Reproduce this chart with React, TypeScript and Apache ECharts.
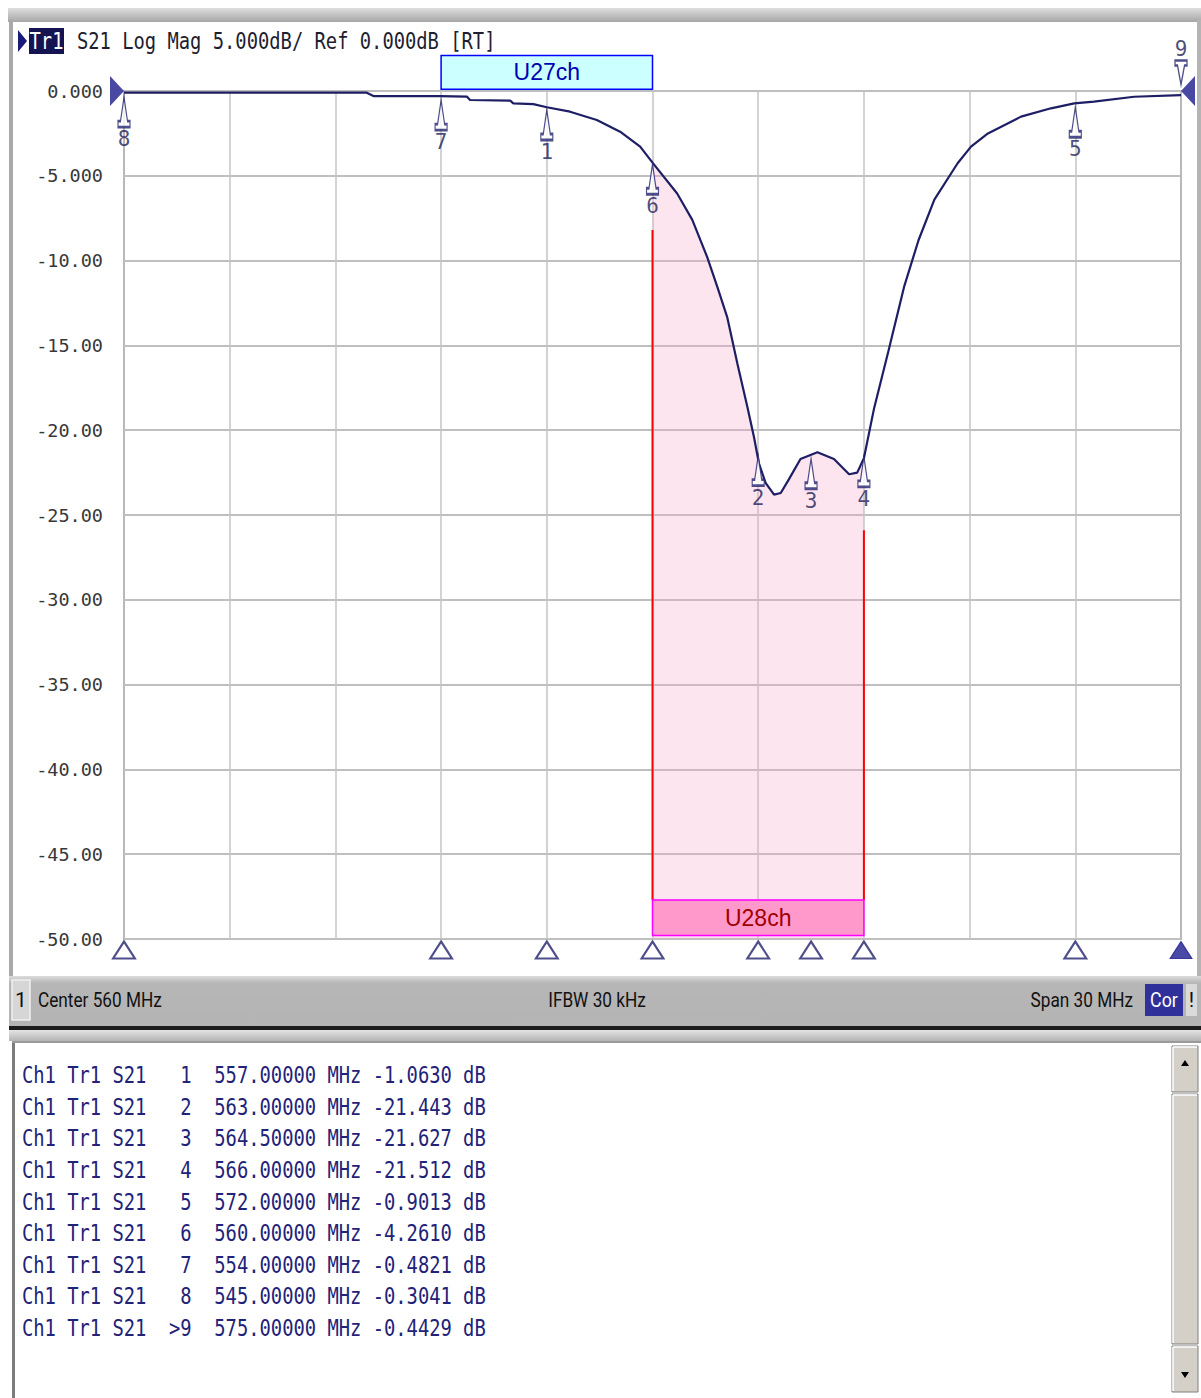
import React, { useEffect, useRef } from "react";
import * as echarts from "echarts";

// ---------- instrument settings ----------
const CENTER_MHZ = 560;
const SPAN_MHZ = 30;
const START_MHZ = CENTER_MHZ - SPAN_MHZ / 2;
const IFBW_KHZ = 30;
const Y_MIN = -50;
const Y_MAX = 0;
const Y_STEP = 5;
const X_STEP = 3;

// ---------- S21 trace ----------
const TRACE_MHZ = [
  545.0, 547.0, 549.0, 550.85, 551.89, 552.08, 553.97, 554.73, 554.82, 555.96,
  556.05, 556.62, 557.0, 557.66, 558.42, 559.08, 559.65, 560.0, 560.7, 561.13,
  561.55, 561.84, 562.12, 562.41, 562.69, 562.88, 563.02, 563.21, 563.45, 563.64,
  563.87, 564.2, 564.68, 565.15, 565.58, 565.81, 566.0, 566.29, 566.7, 567.14,
  567.55, 568.0, 568.66, 569.04, 569.52, 570.46, 571.31, 571.97, 572.53, 573.67,
  575.0,
];
const TRACE_DB = [
  -0.1, -0.1, -0.1, -0.1, -0.1, -0.3, -0.3, -0.33, -0.53, -0.57,
  -0.73, -0.77, -0.96, -1.22, -1.71, -2.4, -3.28, -4.22, -6.04, -7.6,
  -9.78, -11.55, -13.33, -16.08, -18.6, -20.4, -21.95, -23.1, -23.8, -23.7,
  -22.9, -21.7, -21.3, -21.7, -22.6, -22.5, -21.65, -18.7, -15.3, -11.55,
  -8.8, -6.4, -4.26, -3.28, -2.5, -1.51, -1.02, -0.73, -0.63, -0.34,
  -0.24,
];

// ---------- markers (readout table) ----------
const MARKER_IDS = ["1", "2", "3", "4", "5", "6", "7", "8", "9"];
const MARKER_MHZ = [557, 563, 564.5, 566, 572, 560, 554, 545, 575];
const MARKER_DB = [-1.063, -21.443, -21.627, -21.512, -0.9013, -4.261, -0.4821, -0.3041, -0.4429];
const ACTIVE_MARKER = "9";

// ---------- channel boxes ----------
const U27_MHZ = [554, 560];
const U27_DB = [2.1, 0.1];
const U28_MHZ = [560, 566];
const U28_DB = [-47.7, -49.8];
const EDGE_TOP_DB = [-8.2, -25.9];

const MONO = '"DejaVu Sans Mono", "Liberation Mono", monospace';
const SANS = 'Roboto, "Liberation Sans", sans-serif';
const NAVY = "#22226e";

const FLAG_UP = "path://M6,0 L9.5,24 L12,24 L12,30 L0,30 L0,24 L2.5,24 Z";
const FLAG_DOWN = "path://M6,24 L9.5,5 L12,5 L12,0 L0,0 L0,5 L2.5,5 Z";

const xOf = (f: number) => f - START_MHZ;

function yLabel(v: number) {
  if (v === 0) return "0.000";
  return Math.abs(v) < 10 ? v.toFixed(3) : v.toFixed(2);
}

function readout(v: number) {
  return Math.abs(v) < 10 ? v.toFixed(4) : v.toFixed(3);
}

function buildOption(): any {
  const trace = TRACE_MHZ.map((f, i) => [xOf(f), TRACE_DB[i]]);
  const band = TRACE_MHZ.map((f, i) => [f, TRACE_DB[i]])
    .filter((p) => p[0] >= U28_MHZ[0] && p[0] <= U28_MHZ[1])
    .map((p) => [xOf(p[0]), p[1]]);
  const flags = MARKER_IDS.map((id, i) => ({ id, i })).filter((m) => m.id !== ACTIVE_MARKER);
  const active = MARKER_IDS.indexOf(ACTIVE_MARKER);

  return {
    animation: false,
    backgroundColor: "#ffffff",
    grid: {
      left: 124,
      top: 91,
      width: 1057,
      height: 848,
      show: true,
      borderColor: "#707070",
      borderWidth: 1.5,
      backgroundColor: "transparent",
    },
    xAxis: {
      type: "value",
      min: 0,
      max: SPAN_MHZ,
      interval: X_STEP,
      axisLabel: { show: false },
      axisTick: { show: false },
      axisLine: { show: false },
      splitLine: { show: true, lineStyle: { color: "#c4c4c4", width: 1.5 } },
    },
    yAxis: {
      type: "value",
      min: Y_MIN,
      max: Y_MAX,
      interval: Y_STEP,
      axisTick: { show: false },
      axisLine: { show: false },
      axisLabel: {
        formatter: yLabel,
        fontFamily: MONO,
        fontSize: 18.5,
        color: "#383838",
        margin: 21,
      },
      splitLine: { show: true, lineStyle: { color: "#bfbfbf", width: 2 } },
    },
    series: [
      {
        name: "band",
        type: "line",
        data: band,
        showSymbol: false,
        lineStyle: { width: 0, opacity: 0 },
        areaStyle: { color: "rgba(246,168,200,0.42)", origin: "start" },
        z: 2,
        silent: true,
      },
      {
        name: "edgeL",
        type: "line",
        data: [
          [xOf(U28_MHZ[0]), EDGE_TOP_DB[0]],
          [xOf(U28_MHZ[0]), U28_DB[0]],
        ],
        showSymbol: false,
        lineStyle: { color: "#ff0000", width: 2 },
        z: 3,
      },
      {
        name: "edgeR",
        type: "line",
        data: [
          [xOf(U28_MHZ[1]), EDGE_TOP_DB[1]],
          [xOf(U28_MHZ[1]), U28_DB[0]],
        ],
        showSymbol: false,
        lineStyle: { color: "#ff0000", width: 2 },
        z: 3,
      },
      {
        name: "S21",
        type: "line",
        data: trace,
        showSymbol: false,
        lineStyle: { color: "#1e1e64", width: 2.2 },
        z: 5,
      },
      {
        name: "flags",
        type: "scatter",
        clip: false,
        data: flags.map((m) => [xOf(MARKER_MHZ[m.i]), MARKER_DB[m.i], m.id]),
        symbol: FLAG_UP,
        symbolSize: [12, 30],
        symbolOffset: [0, 16],
        itemStyle: { color: "#ffffff", borderColor: NAVY, borderWidth: 1.8 },
        label: {
          show: true,
          position: "bottom",
          distance: 0,
          formatter: (p: any) => p.value[2],
          fontFamily: MONO,
          fontSize: 21,
          color: "#1e1e5a",
        },
        z: 6,
      },
      {
        name: "activeFlag",
        type: "scatter",
        clip: false,
        data: [[xOf(MARKER_MHZ[active]), MARKER_DB[active], ACTIVE_MARKER]],
        symbol: FLAG_DOWN,
        symbolSize: [12, 24],
        symbolOffset: [0, -26],
        itemStyle: { color: "#ffffff", borderColor: NAVY, borderWidth: 1.8 },
        label: {
          show: true,
          position: "top",
          distance: 0,
          formatter: (p: any) => p.value[2],
          fontFamily: MONO,
          fontSize: 21,
          color: "#1e1e5a",
        },
        z: 6,
      },
      {
        name: "stimulusMarkers",
        type: "scatter",
        clip: false,
        data: MARKER_IDS.map((id, i) => ({
          value: [xOf(MARKER_MHZ[i]), Y_MIN],
          itemStyle:
            id === ACTIVE_MARKER
              ? { color: "#1c1c90", borderColor: "#1c1c90", borderWidth: 1 }
              : { color: "#ffffff", borderColor: NAVY, borderWidth: 2 },
        })),
        symbol: "triangle",
        symbolSize: [22, 17],
        symbolOffset: [0, 11],
        z: 6,
      },
      {
        name: "refLevel",
        type: "scatter",
        clip: false,
        data: [
          { value: [0, Y_MAX], symbolRotate: -90, symbolOffset: [-7, 0] },
          { value: [SPAN_MHZ, Y_MAX], symbolRotate: 90, symbolOffset: [7, 0] },
        ],
        symbol: "triangle",
        symbolSize: [30, 14],
        itemStyle: { color: "#1c1c8c" },
        z: 7,
      },
    ],
  };
}

function bevelButton(x: number, y: number, w: number, h: number, up: boolean | null) {
  const els: any[] = [
    { type: "rect", shape: { x, y, width: w, height: h }, style: { fill: "#d4d0c8", stroke: "#808080", lineWidth: 1 } },
    { type: "line", shape: { x1: x + 1, y1: y + 1, x2: x + w - 1, y2: y + 1 }, style: { stroke: "#ffffff", lineWidth: 1.5 } },
    { type: "line", shape: { x1: x + 1, y1: y + 1, x2: x + 1, y2: y + h - 1 }, style: { stroke: "#ffffff", lineWidth: 1.5 } },
  ];
  if (up !== null) {
    const cx = x + w / 2;
    const cy = y + h / 2 - 6;
    els.push({
      type: "polygon",
      shape: {
        points: up
          ? [[cx - 4, cy + 3], [cx + 4, cy + 3], [cx, cy - 3]]
          : [[cx - 4, cy + 9], [cx + 4, cy + 9], [cx, cy + 15]],
      },
      style: { fill: "#000000" },
    });
  }
  return els;
}

function buildGraphic(chart: any): any[] {
  const g: any[] = [];
  const px = (f: number, db: number) => chart.convertToPixel({ xAxisIndex: 0, yAxisIndex: 0 }, [xOf(f), db]);

  // window frame
  g.push({
    type: "rect",
    shape: { x: 8, y: 8, width: 1193, height: 14 },
    style: {
      fill: new echarts.graphic.LinearGradient(0, 0, 0, 1, [
        { offset: 0, color: "#dedede" },
        { offset: 1, color: "#a6a6a6" },
      ]),
    },
  });
  g.push({ type: "rect", shape: { x: 9, y: 20, width: 4, height: 958 }, style: { fill: "#a9a9a9" } });
  g.push({ type: "rect", shape: { x: 1197, y: 20, width: 4, height: 958 }, style: { fill: "#b4b4b4" } });

  // header
  g.push({ type: "polygon", shape: { points: [[18, 30], [27, 41], [18, 52]] }, style: { fill: "#1a1a7a" } });
  g.push({ type: "rect", shape: { x: 29, y: 28, width: 35, height: 26 }, style: { fill: "#141452" } });
  g.push({
    type: "text", x: 46.5, y: 41, scaleY: 1.2,
    style: { text: "Tr1", fill: "#ffffff", fontFamily: MONO, fontSize: 18.8, align: "center", verticalAlign: "middle" },
  });
  g.push({
    type: "text", x: 77, y: 41, scaleY: 1.2,
    style: {
      text: `S21 Log Mag ${Y_STEP.toFixed(3)}dB/ Ref ${Y_MAX.toFixed(3)}dB [RT]`,
      fill: "#1e1e30", fontFamily: MONO, fontSize: 18.8, align: "left", verticalAlign: "middle",
    },
  });

  // channel boxes
  const a0 = px(U27_MHZ[0], U27_DB[0]);
  const a1 = px(U27_MHZ[1], U27_DB[1]);
  g.push({
    type: "rect", z: 20,
    shape: { x: a0[0], y: a0[1], width: a1[0] - a0[0], height: a1[1] - a0[1] },
    style: { fill: "#ccffff", stroke: "#0000ff", lineWidth: 1.5 },
  });
  g.push({
    type: "text", z: 21, x: (a0[0] + a1[0]) / 2, y: (a0[1] + a1[1]) / 2,
    style: { text: "U27ch", fill: "#0000b4", fontFamily: '"Liberation Sans", Arial, sans-serif', fontSize: 23, align: "center", verticalAlign: "middle" },
  });
  const b0 = px(U28_MHZ[0], U28_DB[0]);
  const b1 = px(U28_MHZ[1], U28_DB[1]);
  g.push({
    type: "rect", z: 20,
    shape: { x: b0[0], y: b0[1], width: b1[0] - b0[0], height: b1[1] - b0[1] },
    style: { fill: "#ff99cc", stroke: "#ff00ff", lineWidth: 1.5 },
  });
  g.push({
    type: "text", z: 21, x: (b0[0] + b1[0]) / 2, y: (b0[1] + b1[1]) / 2,
    style: { text: "U28ch", fill: "#a00000", fontFamily: '"Liberation Sans", Arial, sans-serif', fontSize: 23, align: "center", verticalAlign: "middle" },
  });

  // status bar
  g.push({
    type: "rect",
    shape: { x: 9, y: 976, width: 1192, height: 50 },
    style: {
      fill: new echarts.graphic.LinearGradient(0, 0, 0, 1, [
        { offset: 0, color: "#dcdcdc" },
        { offset: 0.14, color: "#b6b6b6" },
        { offset: 1, color: "#b4b4b4" },
      ]),
    },
  });
  g.push({ type: "rect", shape: { x: 12, y: 980, width: 18, height: 40 }, style: { fill: "#d6d6d6", stroke: "#efefef", lineWidth: 1.5 } });
  const statusStyle = { fill: "#111111", fontFamily: SANS, fontSize: 21, verticalAlign: "middle" };
  g.push({ type: "text", x: 21, y: 1000, style: { ...statusStyle, text: "1", align: "center" } });
  g.push({ type: "text", x: 38, y: 1000, scaleX: 0.82, style: { ...statusStyle, text: `Center ${CENTER_MHZ} MHz`, align: "left" } });
  g.push({ type: "text", x: 597, y: 1000, scaleX: 0.82, style: { ...statusStyle, text: `IFBW ${IFBW_KHZ} kHz`, align: "center" } });
  g.push({ type: "text", x: 1133, y: 1000, scaleX: 0.82, style: { ...statusStyle, text: `Span ${SPAN_MHZ} MHz`, align: "right" } });
  g.push({ type: "rect", shape: { x: 1145, y: 984, width: 38, height: 32 }, style: { fill: "#30309a" } });
  g.push({ type: "text", x: 1164, y: 1000, scaleX: 0.85, style: { ...statusStyle, text: "Cor", fill: "#ffffff", align: "center" } });
  g.push({ type: "rect", shape: { x: 1186, y: 984, width: 11, height: 32 }, style: { fill: "#dadada" } });
  g.push({ type: "text", x: 1191.5, y: 1000, style: { ...statusStyle, text: "!", align: "center" } });

  g.push({ type: "rect", shape: { x: 9, y: 1026, width: 1192, height: 4 }, style: { fill: "#1c1c1c" } });
  g.push({
    type: "rect",
    shape: { x: 9, y: 1030, width: 1192, height: 11 },
    style: {
      fill: new echarts.graphic.LinearGradient(0, 0, 0, 1, [
        { offset: 0, color: "#e4e4e4" },
        { offset: 1, color: "#b4b4b4" },
      ]),
    },
  });

  // marker table panel
  g.push({ type: "rect", shape: { x: 12, y: 1041, width: 1189, height: 357 }, style: { fill: "#ffffff" } });
  g.push({ type: "rect", shape: { x: 12, y: 1041, width: 3, height: 357 }, style: { fill: "#7c7c7c" } });
  g.push({ type: "line", shape: { x1: 12, y1: 1042, x2: 1201, y2: 1042 }, style: { stroke: "#9a9a9a", lineWidth: 2 } });

  MARKER_IDS.forEach((id, i) => {
    const tag = (id === ACTIVE_MARKER ? ">" : "") + id;
    const line =
      "Ch1 Tr1 S21 " +
      tag.padStart(3, " ") +
      "  " +
      MARKER_MHZ[i].toFixed(5) +
      " MHz " +
      readout(MARKER_DB[i]) +
      " dB";
    g.push({
      type: "text", x: 22, y: 1075 + i * 31.6, scaleY: 1.25,
      style: { text: line, fill: "#222278", fontFamily: MONO, fontSize: 18.8, align: "left", verticalAlign: "middle" },
    });
  });

  // scrollbar
  g.push(...bevelButton(1172, 1046, 26, 46, true));
  g.push(...bevelButton(1172, 1094, 26, 250, null));
  g.push(...bevelButton(1172, 1346, 26, 46, false));

  return g;
}

export default function App() {
  const ref = useRef<HTMLDivElement>(null);
  useEffect(() => {
    const el = ref.current;
    if (!el) return;
    const chart = echarts.init(el, null, { renderer: "svg" });
    chart.setOption(buildOption());
    chart.setOption({ graphic: buildGraphic(chart) });
    return () => chart.dispose();
  }, []);
  return (
    <div
      ref={ref}
      style={{ position: "absolute", left: 0, top: 0, width: 1201, height: 1398 }}
    />
  );
}
